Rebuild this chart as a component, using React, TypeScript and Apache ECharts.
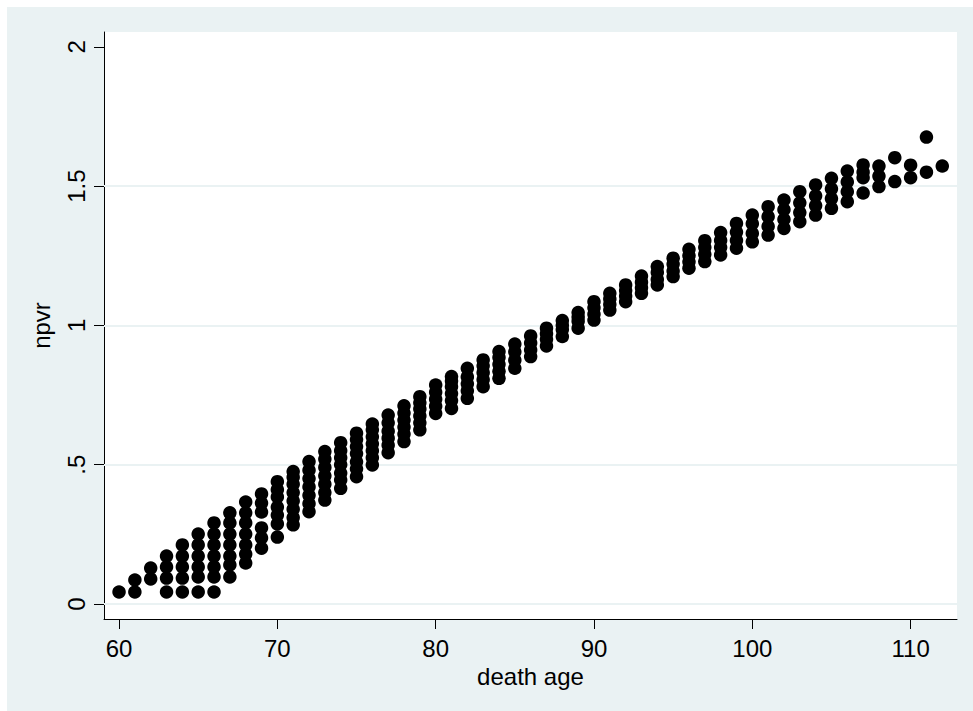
import React, { useEffect, useRef } from "react";
import * as echarts from "echarts";

const ages = [
  60, 61, 62, 63, 64, 65, 66, 67, 68, 69, 70, 71, 72, 73, 74, 75, 76, 77, 78, 79,
  80, 81, 82, 83, 84, 85, 86, 87, 88, 89, 90, 91, 92, 93, 94, 95, 96, 97, 98, 99,
  100, 101, 102, 103, 104, 105, 106, 107, 108, 109, 110, 111, 112,
];

const npvrByAge: number[][] = [
  [0.043],
  [0.043, 0.086],
  [0.09, 0.129],
  [0.043, 0.093, 0.133, 0.172],
  [0.043, 0.093, 0.133, 0.172, 0.212],
  [0.043, 0.097, 0.133, 0.172, 0.212, 0.251],
  [0.043, 0.097, 0.133, 0.172, 0.212, 0.251, 0.291],
  [0.097, 0.14, 0.172, 0.212, 0.251, 0.291, 0.327],
  [0.147, 0.179, 0.212, 0.251, 0.291, 0.327, 0.366],
  [0.2, 0.237, 0.273, 0.33, 0.362, 0.395],
  [0.24, 0.287, 0.319, 0.348, 0.384, 0.41, 0.439],
  [0.284, 0.31, 0.34, 0.37, 0.4, 0.43, 0.455, 0.475],
  [0.331, 0.36, 0.39, 0.42, 0.45, 0.48, 0.511],
  [0.373, 0.4, 0.43, 0.46, 0.49, 0.52, 0.547],
  [0.415, 0.445, 0.47, 0.5, 0.525, 0.55, 0.579],
  [0.457, 0.485, 0.51, 0.54, 0.565, 0.59, 0.613],
  [0.499, 0.525, 0.55, 0.575, 0.6, 0.625, 0.646],
  [0.543, 0.57, 0.595, 0.62, 0.65, 0.678],
  [0.583, 0.61, 0.635, 0.66, 0.685, 0.711],
  [0.625, 0.65, 0.675, 0.7, 0.722, 0.744],
  [0.684, 0.71, 0.735, 0.76, 0.786],
  [0.702, 0.73, 0.755, 0.78, 0.8, 0.816],
  [0.738, 0.765, 0.79, 0.815, 0.846],
  [0.78, 0.805, 0.83, 0.855, 0.876],
  [0.81, 0.835, 0.86, 0.885, 0.906],
  [0.846, 0.875, 0.905, 0.933],
  [0.888, 0.912, 0.937, 0.962],
  [0.926, 0.95, 0.97, 0.99],
  [0.96, 0.985, 1.0, 1.017],
  [0.99, 1.015, 1.03, 1.046],
  [1.019, 1.04, 1.063, 1.085],
  [1.055, 1.075, 1.095, 1.115],
  [1.085, 1.105, 1.125, 1.145],
  [1.115, 1.135, 1.155, 1.177],
  [1.145, 1.165, 1.19, 1.211],
  [1.175, 1.195, 1.22, 1.241],
  [1.205, 1.228, 1.25, 1.273],
  [1.229, 1.255, 1.28, 1.304],
  [1.253, 1.28, 1.305, 1.333],
  [1.277, 1.305, 1.335, 1.366],
  [1.3, 1.33, 1.365, 1.396],
  [1.324, 1.355, 1.39, 1.426],
  [1.348, 1.38, 1.415, 1.45],
  [1.372, 1.405, 1.44, 1.48],
  [1.396, 1.43, 1.465, 1.504],
  [1.42, 1.455, 1.49, 1.528],
  [1.444, 1.48, 1.515, 1.554],
  [1.475, 1.53, 1.55, 1.576],
  [1.498, 1.536, 1.572],
  [1.516, 1.602],
  [1.53, 1.575],
  [1.55, 1.676],
  [1.572],
];

const xTicks = [60, 70, 80, 90, 100, 110];
const yTicks = [0, 0.5, 1, 1.5, 2];
const yGridValues = [0, 0.5, 1, 1.5];
const xTitle = "death age";
const yTitle = "npvr";

const BG = "#EAF2F3";
const FONT = "'Liberation Sans', Arial, Helvetica, sans-serif";

export default function App() {
  const ref = useRef<HTMLDivElement>(null);

  useEffect(() => {
    if (!ref.current) return;
    const chart = echarts.init(ref.current, undefined, { renderer: "svg" });
    const points: number[][] = [];
    ages.forEach((a, i) => {
      npvrByAge[i].forEach((v) => points.push([a, v]));
    });

    chart.setOption({
      animation: false,
      backgroundColor: BG,
      grid: {
        left: 97,
        top: 25,
        right: 16,
        bottom: 92,
        show: true,
        backgroundColor: "#ffffff",
        borderWidth: 0,
      },
      xAxis: {
        type: "value",
        min: 59.05,
        max: 112.93,
        name: xTitle,
        nameLocation: "middle",
        nameGap: 42,
        nameTextStyle: { fontFamily: FONT, fontSize: 24, color: "#000" },
        axisLine: { show: true, onZero: false, lineStyle: { color: "#000", width: 1 } },
        axisTick: {
          show: true,
          length: 10,
          customValues: xTicks,
          lineStyle: { color: "#000", width: 1 },
        },
        axisLabel: {
          customValues: xTicks,
          margin: 17,
          fontFamily: FONT,
          fontSize: 24,
          color: "#000",
        },
        splitLine: { show: false },
      },
      yAxis: {
        type: "value",
        min: -0.054,
        max: 2.053,
        name: yTitle,
        nameLocation: "middle",
        nameRotate: 90,
        nameGap: 51,
        nameTextStyle: { fontFamily: FONT, fontSize: 24, color: "#000" },
        axisLine: { show: true, onZero: false, lineStyle: { color: "#000", width: 1 } },
        axisTick: {
          show: true,
          length: 10,
          customValues: yTicks,
          lineStyle: { color: "#000", width: 1 },
        },
        axisLabel: {
          customValues: yTicks,
          rotate: 90,
          margin: 16,
          fontFamily: FONT,
          fontSize: 24,
          color: "#000",
          formatter: (v: number) => (v === 0.5 ? ".5" : String(v)),
        },
        splitLine: { show: false },
      },
      series: [
        {
          type: "scatter",
          data: points,
          symbol: "circle",
          symbolSize: 13.5,
          itemStyle: { color: "#000", opacity: 1, borderWidth: 0 },
          silent: true,
          z: 3,
          markLine: {
            silent: true,
            symbol: ["none", "none"],
            label: { show: false },
            lineStyle: { color: BG, width: 2, type: "solid", opacity: 1 },
            data: yGridValues.map((v) => ({ yAxis: v })),
            z: 1,
          },
        },
      ],
    });
    return () => chart.dispose();
  }, []);

  return (
    <div
      style={{
        position: "fixed",
        left: 0,
        top: 0,
        width: 973,
        height: 711,
        background: "#ffffff",
      }}
    >
      <div
        ref={ref}
        style={{ position: "absolute", left: 7, top: 7, width: 966, height: 704 }}
      />
    </div>
  );
}
